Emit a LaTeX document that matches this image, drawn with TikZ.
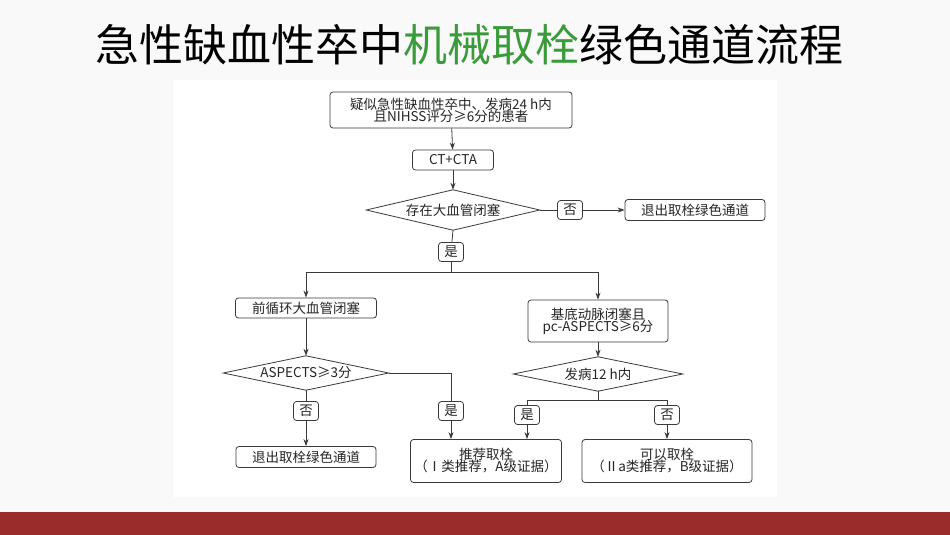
\documentclass[tikz,border=0pt]{standalone}
\usepackage{fontspec}
\setmainfont{Noto Sans CJK SC}
\newfontfamily\cjk{Noto Sans CJK SC}
\usetikzlibrary{shapes.geometric,arrows.meta}
\definecolor{ln}{HTML}{3A3A3A}
\definecolor{ttgreen}{HTML}{3A9B3A}
\definecolor{band}{HTML}{9B2C2C}
\tikzset{
 box/.style={draw=ln,rounded corners=3pt,line width=0.8pt,font=\fontsize{13.5}{15}\selectfont,align=center,inner sep=2pt,text=black!85},
 lab/.style={box,minimum width=25pt,minimum height=19pt,inner sep=1pt},
 dia/.style={draw=none,rectangle,font=\fontsize{13.5}{15}\selectfont,inner sep=0pt,text=black!85},
 ar/.style={draw=ln,line width=0.8pt,-{Stealth[length=7pt,width=5pt]}},
 ln/.style={draw=ln,line width=0.8pt}
}
\newcommand{\diaout}[1]{\draw[ln,line join=miter] (#1.west) -- (#1.north) -- (#1.east) -- (#1.south) -- cycle;}
\begin{document}
\begin{tikzpicture}[x=1pt,y=-1pt]
\fill[white!95!gray] (0,0) rectangle (950,535);
\useasboundingbox (0,0) rectangle (950,535);
\fill[white] (173,80) rectangle (777,497);
\fill[band] (0,512) rectangle (950,535);
\node (title) at (469,45) {\fontsize{44}{48}\selectfont 急性缺血性卒中\textcolor{ttgreen}{机械取栓}绿色通道流程};

\node[box,minimum width=242pt,minimum height=36pt,inner sep=1pt] (top) at (451,110) {疑似急性缺血性卒中、发病24 h内\\[-3pt]且NIHSS评分≥6分的患者};
\node[box,minimum width=81pt,minimum height=20pt,inner sep=1pt] (ct) at (453,160) {CT+CTA};
\node[dia,minimum width=173pt,minimum height=40pt] (d1) at (453,210) {存在大血管闭塞};
\node[lab] (no1) at (570,210) {否};
\node[box,minimum width=140pt,minimum height=21pt,inner sep=1pt] (exit1) at (695,210) {退出取栓绿色通道};
\node[lab] (yes1) at (451,252) {是};
\coordinate (j1) at (451,272);
\coordinate (jl) at (306,272);
\coordinate (jr) at (598,272);
\node[box,minimum width=141pt,minimum height=20pt,inner sep=1pt] (ant) at (306,308) {前循环大血管闭塞};
\node[box,minimum width=140pt,minimum height=42pt,inner sep=1pt] (post) at (598,321) {基底动脉闭塞且\\[-3pt]pc-ASPECTS≥6分};
\node[dia,minimum width=165pt,minimum height=34pt] (d2) at (306,373) {ASPECTS≥3分};
\node[dia,minimum width=169pt,minimum height=34pt] (d3) at (598,374) {发病12 h内};
\diaout{d1}\diaout{d2}\diaout{d3}
\node[lab] (no2) at (306,411) {否};
\coordinate (c2) at (451,373);
\node[lab] (yes2) at (451,411) {是};
\node[box,minimum width=140pt,minimum height=21pt,inner sep=1pt] (exit2) at (306,457) {退出取栓绿色通道};
\node[box,minimum width=151pt,minimum height=43pt,inner sep=1pt] (rec) at (486,461) {推荐取栓\\[-3pt]（Ⅰ类推荐，A级证据）};
\node[box,minimum width=170pt,minimum height=43pt,inner sep=1pt] (can) at (667,461) {可以取栓\\[-3pt]（Ⅱa类推荐，B级证据）};
\coordinate (j3) at (598,400);
\coordinate (j3l) at (527,400);
\coordinate (j3r) at (667,400);
\node[lab] (yes3) at (527,415) {是};
\node[lab] (no3) at (667,415) {否};

\draw[ar] (top) -- (ct);
\draw[ar] (ct) -- (d1.north);
\draw[ln] (d1.east) -- (no1);
\draw[ar] (no1) -- (exit1);
\draw[ln] (d1.south) -- (yes1);
\draw[ln] (yes1) -- (j1);
\draw[ln] (jl) -- (jr);
\draw[ar] (jl) -- (ant);
\draw[ar] (jr) -- (post);
\draw[ar] (ant) -- (d2.north);
\draw[ar] (post) -- (d3.north);
\draw[ln] (d2.south) -- (no2);
\draw[ar] (no2) -- (exit2);
\draw[ln] (d2.east) -- (c2) -- (yes2);
\draw[ar] (yes2) -- (yes2 |- rec.north);
\draw[ln] (d3.south) -- (j3);
\draw[ln] (j3l) -- (j3r);
\draw[ln] (j3l) -- (yes3);
\draw[ln] (j3r) -- (no3);
\draw[ar] (yes3) -- (yes3 |- rec.north);
\draw[ar] (no3) -- (can);
\end{tikzpicture}
\end{document}
